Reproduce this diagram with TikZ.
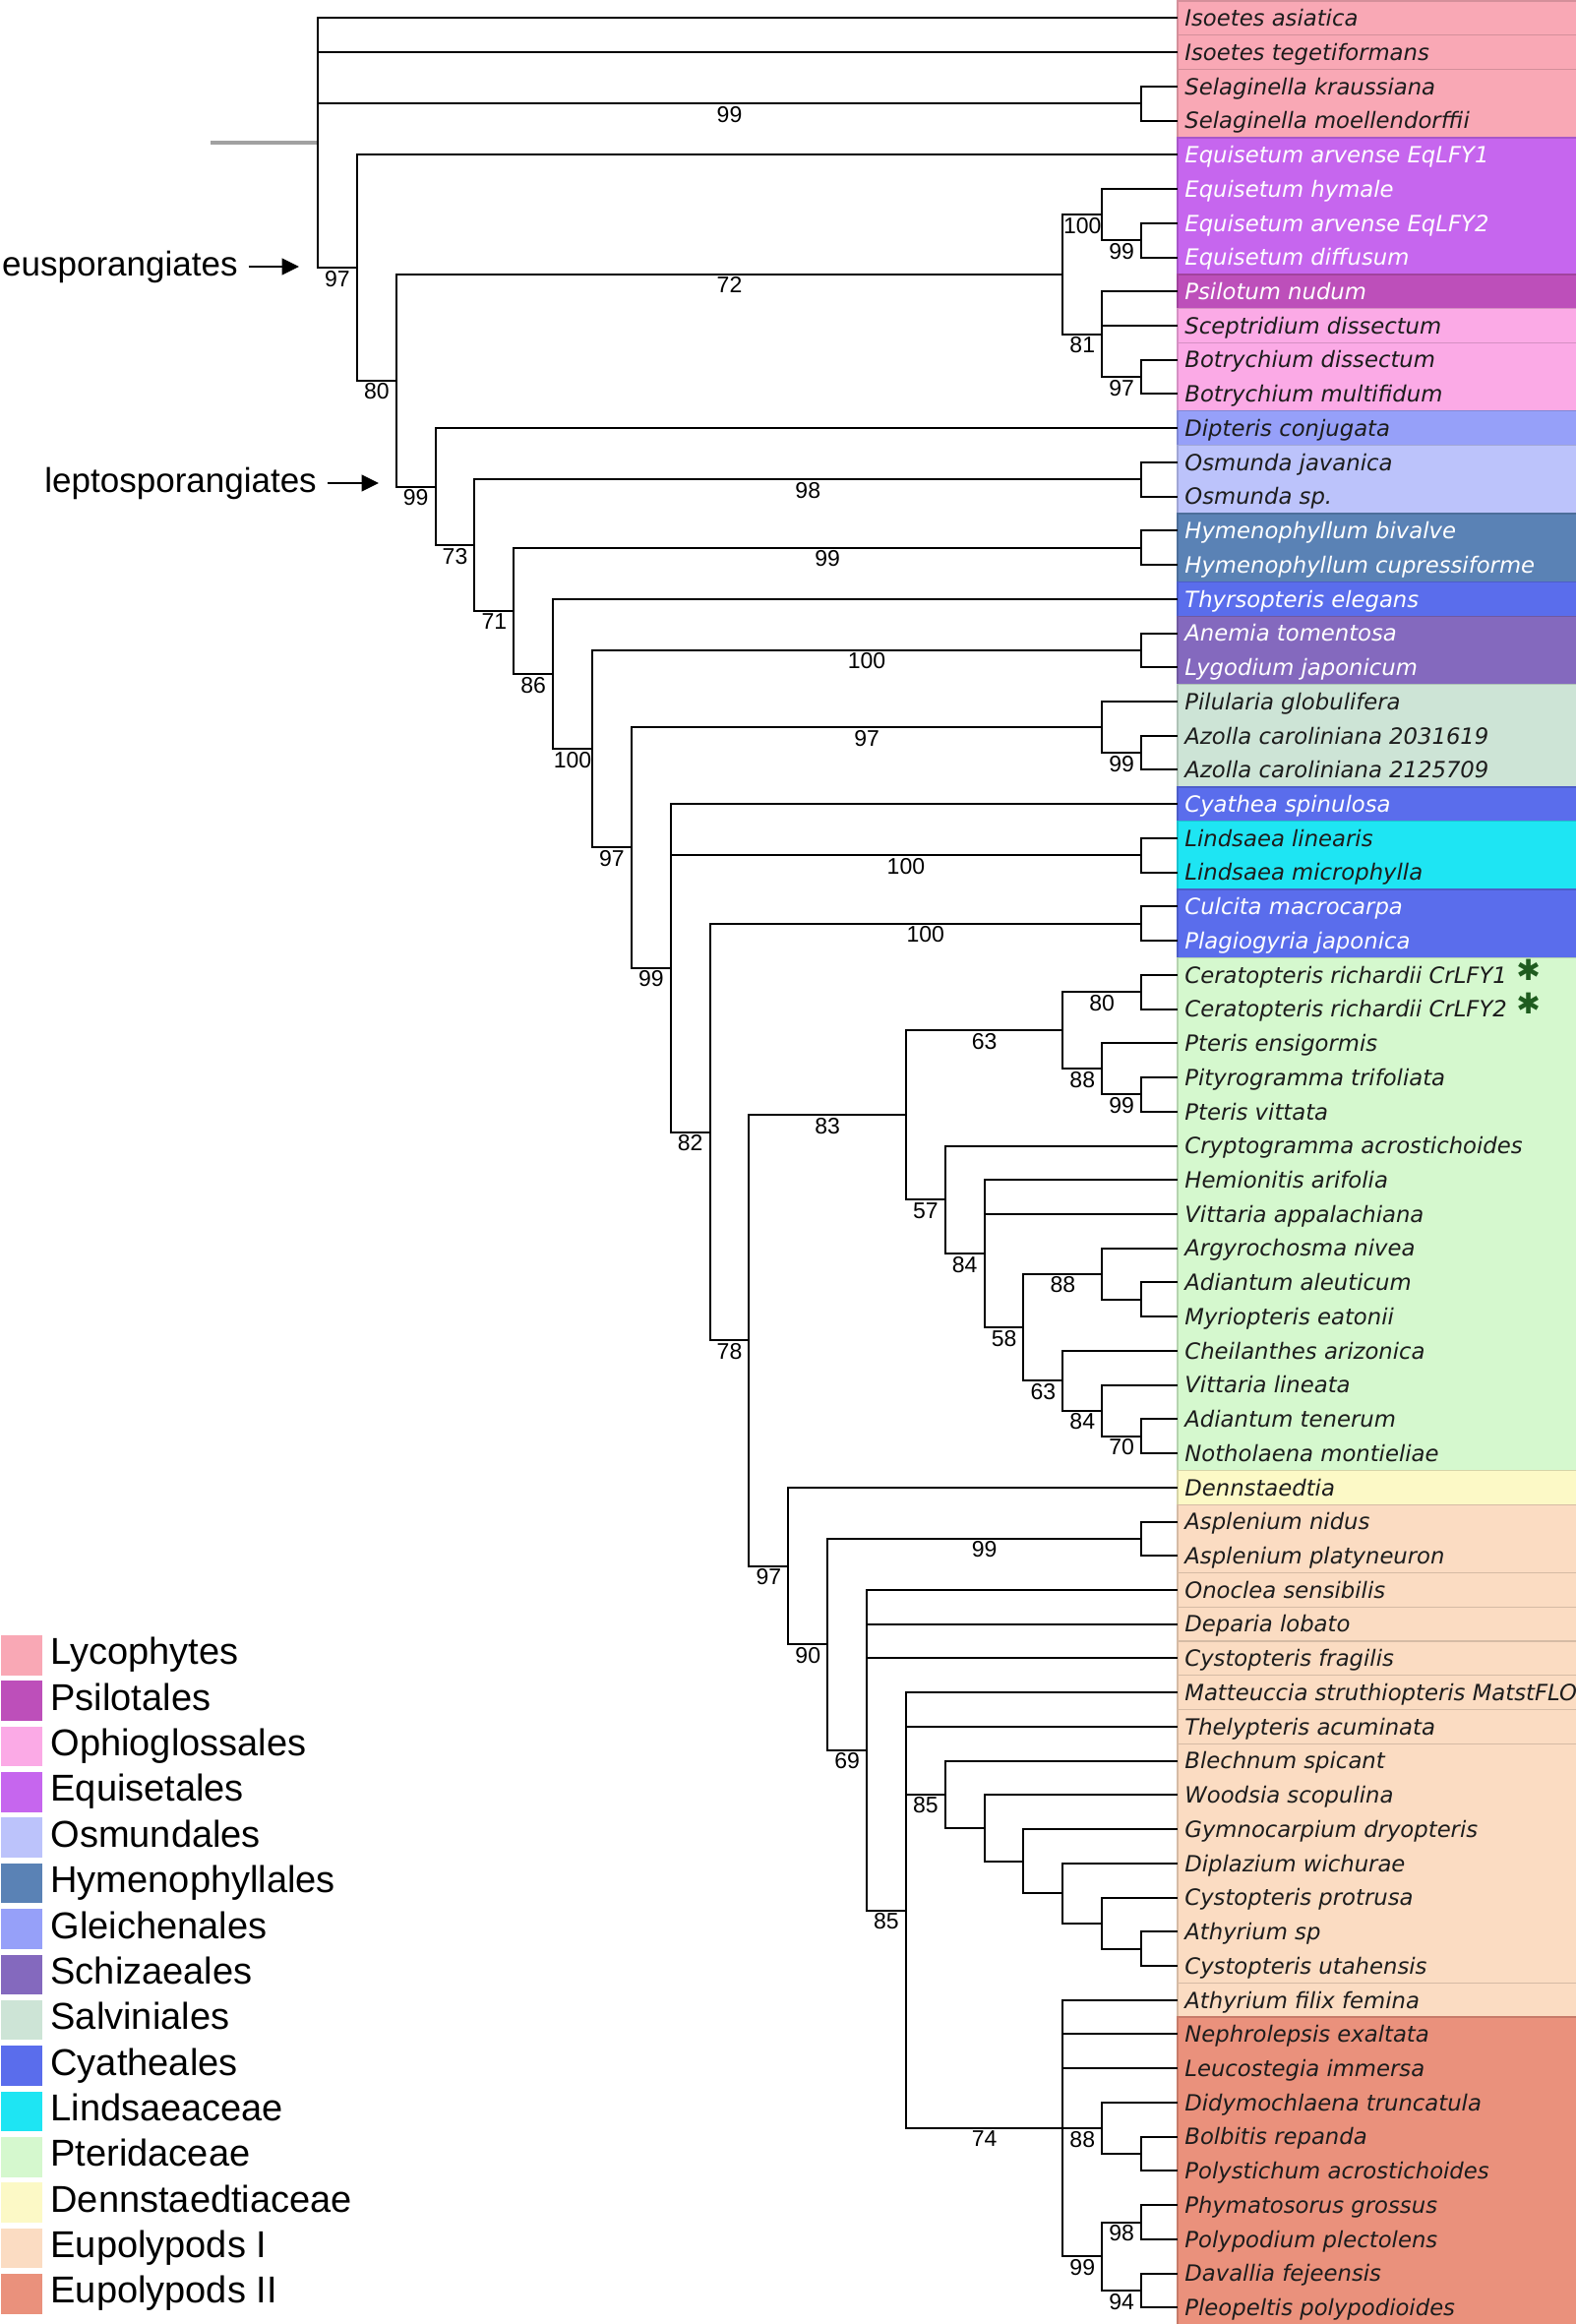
\documentclass[tikz,border=0pt]{standalone}
\usepackage{fontspec}
\setmainfont{Liberation Sans}
\newfontfamily\leaffamily{DejaVu Sans}[ItalicFont={DejaVu Sans Oblique}]
\newfontfamily\starfamily{DejaVu Sans}
\usetikzlibrary{arrows.meta,positioning}

\definecolor{lyco}{HTML}{F9A8B5}
\definecolor{psil}{HTML}{BD4FBA}
\definecolor{ophi}{HTML}{FBAAE6}
\definecolor{equi}{HTML}{C666EE}
\definecolor{osmu}{HTML}{BCC3FB}
\definecolor{hyme}{HTML}{5A82B5}
\definecolor{glei}{HTML}{96A0F9}
\definecolor{schi}{HTML}{8469BE}
\definecolor{salv}{HTML}{CDE4D6}
\definecolor{cyat}{HTML}{5A6DEC}
\definecolor{lind}{HTML}{1EE5F3}
\definecolor{pter}{HTML}{D5F8CE}
\definecolor{denn}{HTML}{FCF9C6}
\definecolor{eupa}{HTML}{FBDCC2}
\definecolor{eupb}{HTML}{EA917C}
\definecolor{ink}{HTML}{1C1C1C}
\definecolor{starg}{HTML}{1F5C1F}

\begin{document}
\begin{tikzpicture}[x=0.75pt,y=-0.75pt,
    branch/.style={line width=1.5pt,black},
    stem/.style={line width=3pt,black!37},
    boot/.style={below=1.5pt,inner sep=0pt,font=\fontsize{17.25pt}{17.25pt}\selectfont},
    leaf/.style={anchor=west,inner xsep=5.25pt,inner ysep=0pt,text height=12.4pt,text depth=0pt,
        font=\leaffamily\itshape\fontsize{17.05pt}{17.05pt}\selectfont},
    band/.style={line width=1pt},
    swatch/.style={minimum width=31.5pt,minimum height=30.4pt,inner sep=0pt},
    keytext/.style={inner sep=0pt,text height=20.4pt,text depth=0pt,font=\fontsize{28.5pt}{28.5pt}\selectfont},
    note/.style={anchor=east,inner xsep=8pt,inner ysep=0pt,text height=13.6pt,text depth=0pt,
        font=\fontsize{26.25pt}{26.25pt}\selectfont},
    pointer/.style={-{Triangle[length=13pt,width=12.5pt]},line width=1.5pt},
    marker/.style={inner sep=0pt,text=starg,font=\starfamily\bfseries\fontsize{22pt}{22pt}\selectfont}]

\fill[white,use as bounding box] (0,0) rectangle (1602,2362);

% tree: x in levels, y in rows
\begin{scope}[xshift=242.25pt,yshift=-13.8pt,x=29.895pt,y=-26.0475pt]
  % coloured ranges
  \foreach \a/\b/\c in {0/0/lyco, 1/1/lyco, 2/3/lyco, 4/7/equi, 8/8/psil, 9/9/ophi, 10/11/ophi,
      12/12/glei, 13/14/osmu, 15/16/hyme, 17/17/cyat, 18/19/schi, 20/22/salv, 23/23/cyat,
      24/25/lind, 26/27/cyat, 28/42/pter, 43/43/denn, 44/45/eupa, 46/46/eupa, 47/47/eupa,
      48/48/eupa, 49/49/eupa, 50/50/eupa, 51/57/eupa, 58/58/eupa, 59/67/eupb}
    \filldraw[band,fill=\c,draw=\c!85!black] (21.93,\a-0.5) rectangle (32.2,\b+0.5);

  % leaves
  \foreach \name/\ink [count=\i from 0] in {
      Isoetes asiatica/ink, Isoetes tegetiformans/ink, Selaginella kraussiana/ink,
      Selaginella moellendorffii/ink, Equisetum arvense EqLFY1/white, Equisetum hymale/white,
      Equisetum arvense EqLFY2/white, Equisetum diffusum/white, Psilotum nudum/white,
      Sceptridium dissectum/ink, Botrychium dissectum/ink, Botrychium multifidum/ink,
      Dipteris conjugata/ink, Osmunda javanica/ink, Osmunda sp./ink, Hymenophyllum bivalve/white,
      Hymenophyllum cupressiforme/white, Thyrsopteris elegans/white, Anemia tomentosa/white,
      Lygodium japonicum/white, Pilularia globulifera/ink, Azolla caroliniana 2031619/ink,
      Azolla caroliniana 2125709/ink, Cyathea spinulosa/white, Lindsaea linearis/ink,
      Lindsaea microphylla/ink, Culcita macrocarpa/white, Plagiogyria japonica/white,
      Ceratopteris richardii CrLFY1/ink, Ceratopteris richardii CrLFY2/ink, Pteris ensigormis/ink,
      Pityrogramma trifoliata/ink, Pteris vittata/ink, Cryptogramma acrostichoides/ink,
      Hemionitis arifolia/ink, Vittaria appalachiana/ink, Argyrochosma nivea/ink,
      Adiantum aleuticum/ink, Myriopteris eatonii/ink, Cheilanthes arizonica/ink,
      Vittaria lineata/ink, Adiantum tenerum/ink, Notholaena montieliae/ink, Dennstaedtia/ink,
      Asplenium nidus/ink, Asplenium platyneuron/ink, Onoclea sensibilis/ink, Deparia lobato/ink,
      Cystopteris fragilis/ink, Matteuccia struthiopteris MatstFLO/ink, Thelypteris acuminata/ink,
      Blechnum spicant/ink, Woodsia scopulina/ink, Gymnocarpium dryopteris/ink,
      Diplazium wichurae/ink, Cystopteris protrusa/ink, Athyrium sp/ink, Cystopteris utahensis/ink,
      Athyrium filix femina/ink, Nephrolepsis exaltata/ink, Leucostegia immersa/ink,
      Didymochlaena truncatula/ink, Bolbitis repanda/ink, Polystichum acrostichoides/ink,
      Phymatosorus grossus/ink, Polypodium plectolens/ink, Davallia fejeensis/ink,
      Pleopeltis polypodioides/ink}
    \node[leaf,text=\ink] (l\i) at (21.93,\i) {\name};

  \node[marker,right=1.5pt of l28,yshift=4pt] (ast1) {✱};
  \node[marker,right=1.5pt of l29,yshift=4pt] (ast2) {✱};

  % internal nodes
  \coordinate (root) at (0,3.651);
  \coordinate (stub) at (-2.73,3.651);
  \coordinate (sel) at (21,2.5);
  \coordinate (n97a) at (1,7.303);
  \coordinate (n80) at (2,10.606);
  \coordinate (n72) at (19,7.5);
  \coordinate (eq100) at (20,5.75);
  \coordinate (eq99) at (21,6.5);
  \coordinate (oph81) at (20,9.25);
  \coordinate (bot97) at (21,10.5);
  \coordinate (n99b) at (3,13.712);
  \coordinate (n73) at (4,15.423);
  \coordinate (osm98) at (21,13.5);
  \coordinate (n71) at (5,17.347);
  \coordinate (hym99) at (21,15.5);
  \coordinate (n86) at (6,19.194);
  \coordinate (n100) at (7,21.387);
  \coordinate (sch100) at (21,18.5);
  \coordinate (n97c) at (8,24.275);
  \coordinate (sal97) at (20,20.75);
  \coordinate (azo99) at (21,21.5);
  \coordinate (n99c) at (9,27.8);
  \coordinate (lin100) at (21,24.5);
  \coordinate (n82) at (10,32.6);
  \coordinate (cul100) at (21,26.5);
  \coordinate (n78) at (11,38.699);
  \coordinate (n83) at (15,32.102);
  \coordinate (pte63) at (19,29.625);
  \coordinate (cer80) at (21,28.5);
  \coordinate (pte88) at (20,30.75);
  \coordinate (pit99) at (21,31.5);
  \coordinate (n57) at (16,34.578);
  \coordinate (n84) at (17,36.156);
  \coordinate (n58) at (18,38.313);
  \coordinate (arg88) at (20,36.75);
  \coordinate (adi) at (21,37.5);
  \coordinate (che63) at (19,39.875);
  \coordinate (vit84) at (20,40.75);
  \coordinate (not70) at (21,41.5);
  \coordinate (n97d) at (12,45.297);
  \coordinate (n90) at (13,47.594);
  \coordinate (asp99) at (21,44.5);
  \coordinate (n69) at (14,50.688);
  \coordinate (n85) at (15,55.375);
  \coordinate (ble85) at (16,51.984);
  \coordinate (woo) at (17,52.969);
  \coordinate (gym) at (18,53.938);
  \coordinate (dip) at (19,54.875);
  \coordinate (cysp) at (20,55.75);
  \coordinate (ath) at (21,56.5);
  \coordinate (n74) at (19,61.75);
  \coordinate (did88) at (20,61.75);
  \coordinate (bol) at (21,62.5);
  \coordinate (pol99) at (20,65.5);
  \coordinate (phy98) at (21,64.5);
  \coordinate (dav94) at (21,66.5);

  \draw[stem] (stub) -- (root);

  % branches with support values
  \foreach \p/\c/\b in {root/sel/99, root/n97a/97, n97a/n80/80, n80/n72/72, n80/n99b/99,
      n72/eq100/100, n72/oph81/81, eq100/eq99/99, oph81/bot97/97, n99b/n73/73, n73/osm98/98,
      n73/n71/71, n71/hym99/99, n71/n86/86, n86/n100/100, n100/sch100/100, n100/n97c/97,
      n97c/sal97/97, n97c/n99c/99, sal97/azo99/99, n99c/lin100/100, n99c/n82/82,
      n82/cul100/100, n82/n78/78, n78/n83/83, n78/n97d/97, n83/pte63/63, n83/n57/57,
      pte63/cer80/80, pte63/pte88/88, pte88/pit99/99, n57/n84/84, n84/n58/58, n58/arg88/88,
      n58/che63/63, che63/vit84/84, vit84/not70/70, n97d/n90/90, n90/asp99/99, n90/n69/69,
      n69/n85/85, n85/ble85/85, n85/n74/74, n74/did88/88, n74/pol99/99, pol99/phy98/98,
      pol99/dav94/94}
    \draw[branch] (\p) |- node[boot,pos=.75] (lab-\c) {\b} (\c);

  % branches without
  \foreach \p/\c in {root/l0, root/l1, sel/l2, sel/l3, n97a/l4, eq100/l5, eq99/l6, eq99/l7,
      oph81/l8, oph81/l9, bot97/l10, bot97/l11, n99b/l12, osm98/l13, osm98/l14, hym99/l15,
      hym99/l16, n86/l17, sch100/l18, sch100/l19, sal97/l20, azo99/l21, azo99/l22, n99c/l23,
      lin100/l24, lin100/l25, cul100/l26, cul100/l27, cer80/l28, cer80/l29, pte88/l30,
      pit99/l31, pit99/l32, n57/l33, n84/l34, n84/l35, arg88/l36, arg88/adi, adi/l37, adi/l38,
      che63/l39, vit84/l40, not70/l41, not70/l42, n97d/l43, asp99/l44, asp99/l45, n69/l46,
      n69/l47, n69/l48, n85/l49, n85/l50, ble85/l51, ble85/woo, woo/l52, woo/gym, gym/l53,
      gym/dip, dip/l54, dip/cysp, cysp/l55, cysp/ath, ath/l56, ath/l57, n74/l58, n74/l59,
      n74/l60, did88/l61, did88/bol, bol/l62, bol/l63, phy98/l64, phy98/l65, dav94/l66,
      dav94/l67}
    \draw[branch] (\p) |- (\c);
\end{scope}

% clade arrows
\node[note] (eusp) at (252.5,271) {eusporangiates};
\coordinate (eusptip) at (304,271);
\draw[pointer] (eusp) -- (eusptip);
\node[note] (lepto) at (332.7,491) {leptosporangiates};
\coordinate (leptotip) at (385,491);
\draw[pointer] (lepto) -- (leptotip);

% legend
\foreach \name/\c [count=\k from 0] in {Lycophytes/lyco, Psilotales/psil, Ophioglossales/ophi,
    Equisetales/equi, Osmundales/osmu, Hymenophyllales/hyme, Gleichenales/glei,
    Schizaeales/schi, Salviniales/salv, Cyatheales/cyat, Lindsaeaceae/lind, Pteridaceae/pter,
    Dennstaedtiaceae/denn, Eupolypods I/eupa, Eupolypods II/eupb} {
  \node[swatch,fill=\c] (sw\k) at (22,1682.25+46.36*\k) {};
  \node[keytext,right=6pt of sw\k,yshift=3pt] (key\k) {\name};
}
\end{tikzpicture}
\end{document}
